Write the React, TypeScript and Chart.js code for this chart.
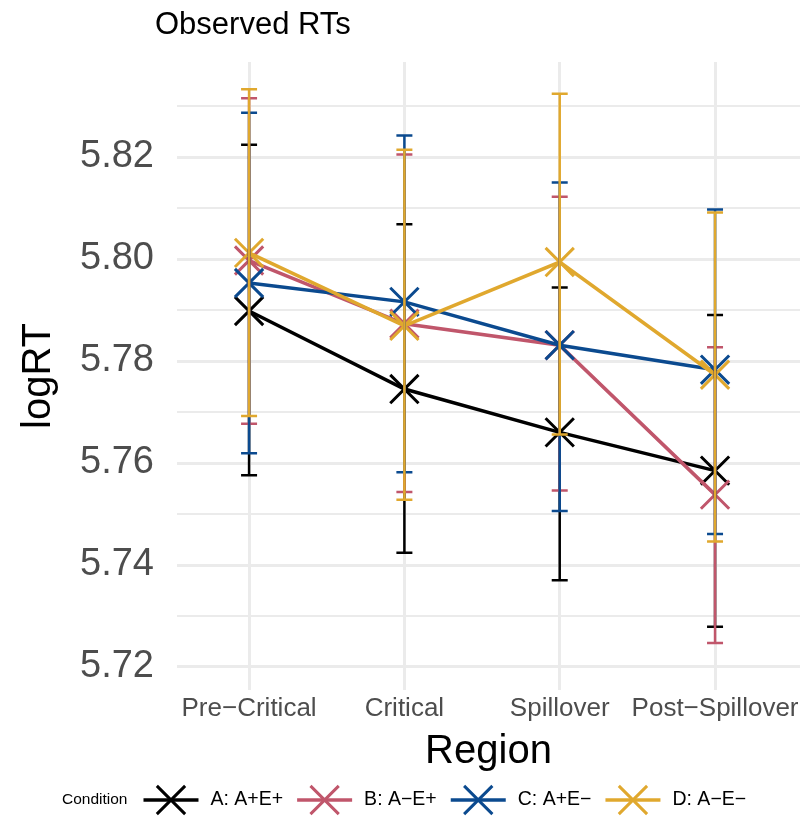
import { useEffect, useRef } from "react";
import { Chart, registerables } from "chart.js";

Chart.register(...registerables);

// Regions along the x axis (U+2212 minus, as in the labels)
const regions = ["Pre\u2212Critical", "Critical", "Spillover", "Post\u2212Spillover"];

// Conditions and their colours
const conditions = ["A: A+E+", "B: A\u2212E+", "C: A+E\u2212", "D: A\u2212E\u2212"];
const conditionColors = ["#000000", "#C0566B", "#0B4A8F", "#E0A82E"];

// Mean logRT per region
const meanA = [5.7898, 5.7745, 5.766, 5.7585];
const meanB = [5.7997, 5.7873, 5.7831, 5.7538];
const meanC = [5.7953, 5.7916, 5.7831, 5.7783];
const meanD = [5.8012, 5.7869, 5.7994, 5.7773];

// Upper ends of the error bars
const upperA = [5.8224, 5.8068, 5.7944, 5.789];
const upperB = [5.8315, 5.8205, 5.8122, 5.7827];
const upperC = [5.8287, 5.8242, 5.815, 5.8097];
const upperD = [5.8333, 5.8214, 5.8324, 5.8091];

// Lower ends of the error bars
const lowerA = [5.7576, 5.7424, 5.737, 5.7279];
const lowerB = [5.7677, 5.7543, 5.7546, 5.7247];
const lowerC = [5.7619, 5.7582, 5.7506, 5.7461];
const lowerD = [5.7692, 5.7528, 5.7656, 5.7446];

// Horizontal grid values and the labelled ones
const yGridValues = [5.72, 5.73, 5.74, 5.75, 5.76, 5.77, 5.78, 5.79, 5.8, 5.81, 5.82, 5.83];
const yTickLabels = ["5.72", "5.74", "5.76", "5.78", "5.80", "5.82"];

const plotTitle = "Observed RTs";
const xTitle = "Region";
const yTitle = "logRT";
const legendTitle = "Condition";

const means = [meanA, meanB, meanC, meanD];
const uppers = [upperA, upperB, upperC, upperD];
const lowers = [lowerA, lowerB, lowerC, lowerD];

const FONT = "'Liberation Sans', Arial, Helvetica, sans-serif";
const MARK_RADIUS = 20;

function drawCross(ctx: CanvasRenderingContext2D, x: number, y: number, r: number) {
  const d = r * Math.SQRT1_2;
  ctx.beginPath();
  ctx.moveTo(x - d, y - d);
  ctx.lineTo(x + d, y + d);
  ctx.moveTo(x + d, y - d);
  ctx.lineTo(x - d, y + d);
  ctx.stroke();
}

const decorations = {
  id: "decorations",
  afterDatasetsDraw(chart: any) {
    const { ctx, scales } = chart;
    const xs = scales.x;
    const ys = scales.y;
    ctx.save();
    ctx.lineWidth = 2.5;
    ctx.lineCap = "butt";
    means.forEach((_, i) => {
      ctx.strokeStyle = conditionColors[i];
      regions.forEach((_, j) => {
        const x = xs.getPixelForValue(j + 1);
        const yHi = ys.getPixelForValue(uppers[i][j]);
        const yLo = ys.getPixelForValue(lowers[i][j]);
        ctx.beginPath();
        ctx.moveTo(x, yHi);
        ctx.lineTo(x, yLo);
        ctx.moveTo(x - 8, yHi);
        ctx.lineTo(x + 8, yHi);
        ctx.moveTo(x - 8, yLo);
        ctx.lineTo(x + 8, yLo);
        ctx.stroke();
      });
    });
    ctx.restore();
  },
  afterDraw(chart: any) {
    const { ctx } = chart;
    ctx.save();
    // plot title
    ctx.fillStyle = "#000000";
    ctx.font = `31px ${FONT}`;
    ctx.textAlign = "left";
    ctx.textBaseline = "alphabetic";
    ctx.fillText(plotTitle, 155, 34);

    // legend
    const ly = 800;
    ctx.textBaseline = "middle";
    ctx.font = `15.5px ${FONT}`;
    let x = 62;
    ctx.fillText(legendTitle, x, ly);
    x += ctx.measureText(legendTitle).width + 16;
    ctx.font = `19.5px ${FONT}`;
    conditions.forEach((label, i) => {
      ctx.strokeStyle = conditionColors[i];
      ctx.lineWidth = 3.5;
      ctx.beginPath();
      ctx.moveTo(x, ly);
      ctx.lineTo(x + 55, ly);
      ctx.stroke();
      ctx.lineWidth = 3;
      drawCross(ctx, x + 27.5, ly, MARK_RADIUS);
      x += 55 + 12;
      ctx.fillStyle = "#000000";
      ctx.fillText(label, x, ly);
      x += ctx.measureText(label).width + 14;
    });
    ctx.restore();
  },
};

export default function App() {
  const canvasRef = useRef<HTMLCanvasElement | null>(null);

  useEffect(() => {
    const canvas = canvasRef.current;
    if (!canvas) return;

    const datasets = conditions.map((label, i) => ({
      label,
      data: means[i].map((v, j) => ({ x: j + 1, y: v })),
      borderColor: conditionColors[i],
      backgroundColor: conditionColors[i],
      borderWidth: 3.5,
      pointStyle: "crossRot" as const,
      pointRadius: MARK_RADIUS,
      pointHoverRadius: MARK_RADIUS,
      pointBorderWidth: 3,
      pointBorderColor: conditionColors[i],
      tension: 0,
      fill: false,
      order: conditions.length - 1 - i,
    }));

    const chart = new Chart(canvas, {
      type: "line",
      data: { datasets },
      options: {
        responsive: false,
        animation: false,
        events: [],
        layout: { autoPadding: false, padding: { top: 62, right: 4, left: 0, bottom: 0 } },
        plugins: {
          legend: { display: false },
          title: { display: false },
          tooltip: { enabled: false },
        },
        scales: {
          x: {
            type: "linear",
            min: 0.536,
            max: 4.547,
            afterFit(scale: any) {
              scale.height = 126;
              scale.paddingLeft = 0;
              scale.paddingRight = 0;
            },
            afterBuildTicks(scale: any) {
              scale.ticks = regions.map((_, j) => ({ value: j + 1 }));
            },
            ticks: {
              autoSkip: false,
              maxRotation: 0,
              padding: 3,
              color: "#4d4d4d",
              font: { family: FONT, size: 26 },
              callback: (v: any) => regions[Math.round(Number(v)) - 1] ?? "",
            },
            grid: { color: "#ebebeb", lineWidth: 3, drawTicks: false },
            border: { display: false },
            title: {
              display: true,
              text: xTitle,
              color: "#000000",
              font: { family: FONT, size: 40 },
              padding: { top: 0, bottom: 40 },
            },
          },
          y: {
            type: "linear",
            min: 5.71549,
            max: 5.83863,
            afterFit(scale: any) {
              scale.width = 177;
              scale.paddingTop = 0;
              scale.paddingBottom = 0;
            },
            afterBuildTicks(scale: any) {
              scale.ticks = yGridValues.map((v) => ({ value: v }));
            },
            ticks: {
              autoSkip: false,
              padding: 23,
              color: "#4d4d4d",
              font: { family: FONT, size: 38 },
              callback: (v: any) => {
                const s = Number(v).toFixed(2);
                return yTickLabels.includes(s) ? s : "";
              },
            },
            grid: {
              color: "#ebebeb",
              drawTicks: false,
              lineWidth: (c: any) =>
                yTickLabels.includes(Number(c.tick?.value).toFixed(2)) ? 3 : 2,
            },
            border: { display: false },
            title: {
              display: true,
              text: yTitle,
              color: "#000000",
              font: { family: FONT, size: 40 },
              padding: { top: 15, bottom: 0 },
            },
          },
        },
      },
      plugins: [decorations],
    });

    return () => chart.destroy();
  }, []);

  return (
    <div style={{ position: "fixed", left: 0, top: 0, width: 804, height: 816, background: "#ffffff" }}>
      <canvas ref={canvasRef} width={804} height={816} />
    </div>
  );
}
